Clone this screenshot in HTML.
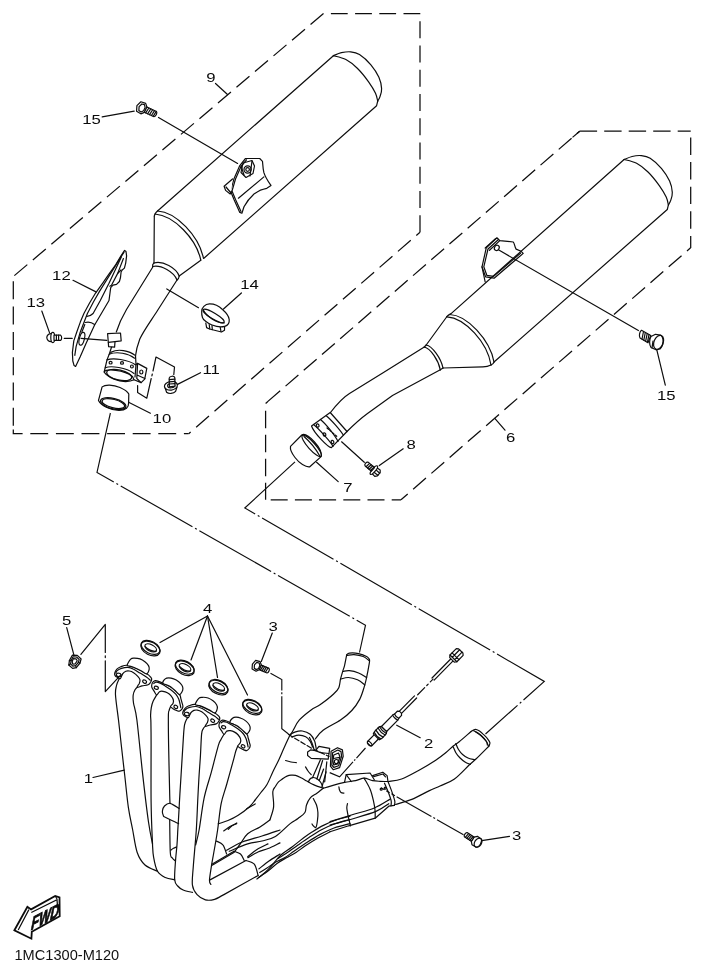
<!DOCTYPE html>
<html>
<head>
<meta charset="utf-8">
<title>Exhaust</title>
<style>
html,body{margin:0;padding:0;background:#fff;}
body{width:704px;height:972px;overflow:hidden;font-family:"Liberation Sans",sans-serif;}
svg{display:block;position:absolute;left:0;top:0;}
.l{fill:none;stroke:#0d0d0d;stroke-width:1.2;stroke-linecap:round;stroke-linejoin:round;}
.w{fill:#fff;stroke:#0d0d0d;stroke-width:1.2;stroke-linecap:round;stroke-linejoin:round;}
.d{fill:none;stroke:#0d0d0d;stroke-width:1.25;stroke-dasharray:17 7;}
.c{fill:none;stroke:#0d0d0d;stroke-width:1.15;stroke-dasharray:82.5 3 2 3;stroke-dashoffset:2.3}
.t{font-family:"Liberation Sans",sans-serif;font-size:12.57px;fill:#0a0a0a;}
.g{filter:grayscale(1);}
</style>
</head>
<body>
<svg width="704" height="972" viewBox="0 0 704 972">
<rect width="704" height="972" fill="#fff"/>

<!-- ===== DASHED BOXES ===== -->
<g id="boxes">
<path class="d" style="stroke-dasharray:17 7.24;stroke-dashoffset:0" d="M420,232.2 L420,14.5"/>
<path class="d" style="stroke-dasharray:16.8 7.4;stroke-dashoffset:0" d="M420.3,13.5 L323.4,13.5"/>
<path class="d" style="stroke-dasharray:17 7.27;stroke-dashoffset:0" d="M323.5,13.5 L13.3,276.5"/>
<path class="d" style="stroke-dasharray:18 7.3;stroke-dashoffset:0" d="M13.3,281.3 L13.3,427"/>
<path class="d" style="stroke-dasharray:17.9 7.7;stroke-dashoffset:4.4" d="M13.3,429.5 L13.3,433.7 L188.7,433.7"/>
<path class="d" style="stroke-dasharray:17 7.33;stroke-dashoffset:12.1" d="M420,232.2 L188.7,433.7"/>
<path class="d" style="stroke-dasharray:17 7.1;stroke-dashoffset:-2.3" d="M265.6,403.4 L579.7,131.2"/>
<path class="d" style="stroke-dasharray:none" d="M265.6,403.4 L267.6,401.7 M572.5,137.4 L579.7,131.2"/>
<path class="d" style="stroke-dasharray:17.4 7.1;stroke-dashoffset:0" d="M579.7,131.2 L690.7,131.2"/>
<path class="d" style="stroke-dasharray:17.4 7.2;stroke-dashoffset:0" d="M690.7,137.5 L690.7,247.9"/>
<path class="d" style="stroke-dasharray:17 7.2;stroke-dashoffset:12.2" d="M690.6,247.8 L401,499.8"/>
<path class="d" style="stroke-dasharray:17.5 6.5;stroke-dashoffset:0" d="M265.6,410.7 L265.6,499.8"/>
<path class="d" style="stroke-dasharray:17 7.2;stroke-dashoffset:0" d="M270.7,499.8 L401,499.8"/>
</g>

<!-- ===== CENTER (DASH-DOT) LEADERS ===== -->
<g id="centerlines">
<path class="c" d="M110.4,413 L97,472.4 L365.5,625.2 L359.5,652.5"/>
<path class="c" d="M295,461.8 L244.8,508 L544.3,681.4 L485.5,734"/>
</g>

<!-- ===== MUFFLER 1 ===== -->
<g id="muffler1">
<path class="l" d="M333.4,55.7 L159.5,209.3 C156.5,211.5 154.8,213.5 154.3,216"/>
<path class="l" d="M377.7,101.1 L376.6,105.7 L203.9,258.2"/>
<path class="l" d="M333.4,55.7 C334.7,55.2 338.5,53.4 341.4,52.7 C344.2,52.1 347.5,51.5 350.5,51.8 C353.5,52.1 356.1,52.3 359.5,54.5 C362.9,56.7 367.7,61.0 370.9,64.8 C374.1,68.6 377.1,73.3 378.9,77.3 C380.7,81.3 381.4,85.4 381.6,88.6 C381.8,91.8 380.6,94.5 380.0,96.6 C379.4,98.7 378.1,100.3 377.7,101.1"/>
<path class="l" d="M333.4,55.7 C335.5,56.3 341.9,57.4 345.9,59.5 C349.9,61.6 353.5,64.5 357.3,68.2 C361.1,71.9 365.6,77.6 368.6,81.8 C371.6,86.0 374.0,90.0 375.5,93.2 C377.0,96.4 377.3,99.8 377.7,101.1"/>
<!-- weld ring -->
<path class="l" d="M157.5,211 C176,212 199,236 203.5,258.5"/>
<path class="l" d="M155,214 C174,215.5 196.5,239 200.8,260.2"/>
<!-- cone -->
<path class="l" d="M154.3,216 L154,263"/>
<path class="l" d="M200.8,260.2 L179.2,276"/>
<!-- neck ring -->
<path class="l" d="M154,263 C163,260.5 176,268 179.2,276"/>
<path class="l" d="M152.6,266.5 C161,264.5 174,272 177,280"/>
<path class="l" d="M154,263 C152.6,264 152.4,265.3 152.6,266.5"/>
<path class="l" d="M179.2,276 C179,278 178.3,279.3 177,280"/>
<!-- pipe -->
<path class="l" d="M152.8,267 L126.5,309.5 C121.5,318 118.5,325 116.3,332"/>
<path class="l" d="M177,280 L157.5,310.5 C151.5,320 144,330 139.8,339 C137.5,345 136,351 135.3,357"/>
<path class="l" d="M112.5,344 L109.5,353.5"/>
</g>

<!-- ===== MUFFLER 2 ===== -->
<g id="muffler2">
<path class="l" d="M624.1,159.5 L451.1,313.6 C448.5,315 447,316 446.6,317"/>
<path class="l" d="M668.4,204.9 L667.3,209.5 L494.3,361.8"/>
<path class="l" d="M624.1,159.5 C625.4,159.0 629.2,157.2 632.1,156.5 C634.9,155.8 638.2,155.3 641.2,155.6 C644.2,155.9 646.8,156.1 650.2,158.3 C653.6,160.5 658.4,164.8 661.6,168.6 C664.8,172.4 667.8,177.1 669.6,181.1 C671.4,185.1 672.1,189.2 672.3,192.4 C672.5,195.6 671.4,198.3 670.7,200.4 C670.1,202.5 668.8,204.1 668.4,204.9"/>
<path class="l" d="M624.1,159.5 C626.2,160.1 632.6,161.2 636.6,163.3 C640.6,165.4 644.2,168.3 648.0,172.0 C651.8,175.7 656.3,181.4 659.3,185.6 C662.3,189.8 664.7,193.8 666.2,197.0 C667.7,200.2 668.0,203.6 668.4,204.9"/>
<!-- weld ring -->
<path class="l" d="M449.5,314.5 C467,315 490,340 494,362"/>
<path class="l" d="M447,316.8 C465,318 487.5,342.5 491,365"/>
<path class="l" d="M494,362 C493.5,363.5 492.5,364.5 491,365"/>
<!-- cone -->
<path class="l" d="M446.6,317 L426.2,345"/>
<path class="l" d="M491,365 C488,366.5 486,366.8 483,366.8 L443,368"/>
<!-- neck ring -->
<path class="l" d="M426.2,345 C432,346 441,358 443,368"/>
<path class="l" d="M424.3,347 C430.5,348.5 438.5,360 440.3,369.8"/>
<path class="l" d="M426.2,345 L424.3,347"/>
<path class="l" d="M443,368 L440.3,369.8"/>
<!-- pipe -->
<path class="l" d="M424.3,347 L383.5,372.5 L349.5,393.5 C343,397.5 337,404 330.5,412.5"/>
<path class="l" d="M440.3,369.8 L392.5,395.5 L367.5,413.5 C360,419 353.5,425 347,431.5"/>
</g>


<!-- ===== BRACKET ON MUFFLER 1 ===== -->
<g id="bracket1">
<path class="w" d="M245.5,158.5 L259.7,158.5 L262.5,161.3 C262.8,165 263,169 263.9,172.7 C265.5,178 268.5,182 271,185.5 L266.8,188.3 C262,189 258,191 254,194 C249,198.5 246,203 244,206.8 L241.9,213.2 L239.8,212.4 L234.1,199.7 L230.5,191.1 L234.1,178.4 L239.8,165.6 Z"/>
<path class="l" d="M246.5,159.8 L241,166.5 L235.5,179 L232,191 L235.5,199.5 L241,211.5"/>
<path class="w" d="M232.5,179 L224.1,186.2 L225.6,190.4 L230.2,194 L231.5,191"/>
<path class="l" d="M226,187 L231,193"/>
<path class="l" d="M238.4,198.2 L263.9,176.9"/>
<path class="l" d="M243,163 L252,160.5 L254.5,166 L253,173.5 L246,177.5 L241,172.5 Z"/>
<circle class="l" cx="247.6" cy="169.5" r="3.6"/>
<circle class="l" cx="247.6" cy="169.5" r="1.8"/>
<path class="l" d="M241,166 L244,175 M252,161 L250,176"/>
</g>

<!-- ===== BOLT 15 (left) ===== -->
<g id="bolt15a" transform="translate(142,108) rotate(24.7)">
<path class="w" d="M-3.6,-5.2 L1.4,-5.8 L4,-3 L4,3 L1.4,5.8 L-3.6,5.2 L-5.6,0 Z"/>
<path class="l" d="M-1.8,-3.6 L0.8,-4 L2.6,-1.8 L2.6,1.8 L0.8,4 L-1.8,3.6 L-3.2,0 Z"/>
<path class="w" d="M4,-2.9 L14.6,-2.9 C16.2,-2 16.2,2 14.6,2.9 L4,2.9 Z"/>
<path class="l" d="M6.2,-2.9 L5.4,2.9 M8.3,-2.9 L7.5,2.9 M10.4,-2.9 L9.6,2.9 M12.5,-2.9 L11.7,2.9 M14.4,-2.9 L13.6,2.9"/>
</g>
<path class="l" d="M158.5,117.5 L237.6,163.4"/>
<path class="l" d="M102.2,116.8 L134.2,111.2"/>
<path class="l" d="M215.5,83.5 L227.5,94.5"/>

<!-- ===== HEAT SHIELD 12 ===== -->
<g id="shield12">
<path class="w" d="M124.6,250.4 L126.0,251.5 L126.6,255.9 L125.7,263.1 L124.4,268.1 L122.2,270.0 L121.1,272.0 L120.5,277.5 L119.4,281.5 L116.5,284.4 L113.0,285.2 L110.7,287.6 L109.0,300.5 L101.8,312.8 L94.6,325.0 L85.9,343.7 L80.2,356.7 L75.6,366.5 L74.1,365.6 L72.8,361.0 L72.4,352.4 L73.8,340.9 L76.7,332.2 L80.3,322.1 L83.9,313.5 L89.7,302.7 L95.4,293.3 L102.7,283.2 L109.1,273.9 L115.8,264.5 L121.0,255.9 Z"/>
<path class="l" d="M124.0,252.1 L99.5,291.4 L93.4,302.0 L87.4,313.5 L80.2,332.2 L76.1,346.6 L74.8,355.3"/>
<path class="l" d="M121.2,257.3 L109,283.2 L100.3,300.5 L93.1,313.5 C91,315.5 88.5,316.5 86.7,316.4"/>
<path class="l" d="M123.4,258.5 L117.8,273.1 L111.5,285.2 L109.8,286.2"/>
<path class="l" d="M117.8,273.3 L121,270"/>
<path class="l" d="M85.2,322.5 C88.5,321.5 92,322.5 94.6,324.5"/>
<path class="l" d="M84.8,324.5 L81.8,332.2"/>
<ellipse class="l" cx="81.9" cy="338.8" rx="2.5" ry="6.6" transform="rotate(14 81.9 338.8)"/>
</g>
<path class="l" d="M73,280.3 L96,291.9"/>

<!-- ===== BOLT 13 ===== -->
<g id="bolt13">
<path class="w" d="M51.8,333.6 C48.5,333.2 46.8,335.8 46.8,337.6 C46.8,339.6 48.5,341.9 51.8,341.5 Z"/>
<ellipse class="w" cx="52.8" cy="337.5" rx="2" ry="5.1"/>
<path class="w" d="M54,335 L60.6,335.2 C62,336 62,339.6 60.6,340.4 L54,340.3 Z"/>
<path class="l" d="M56.4,335.1 L56.4,340.3 M58.6,335.2 L58.6,340.3"/>
</g>
<path class="l" d="M64.3,338.4 L72.2,338.4"/>
<path class="l" d="M81,338.4 L106.8,340.4"/>
<path class="l" d="M41.8,311 L49.5,332.6"/>

<!-- small bracket on pipe -->
<path class="w" d="M107.6,333.7 L120.5,333 L121.2,340.9 L115,341.6 L114.6,347.2 L108.6,346.6 L108.3,342.3 Z"/>
<path class="l" d="M108.3,342.3 L115,341.6"/>

<!-- ===== CLAMP ===== -->
<g id="clamp">
<path class="w" d="M111.3,352.1 C118,348.5 129,350.5 135.5,355.6 L136,364.5 L137.6,363.4 L146.8,368.4 L144.7,379.1 L141.1,382.6 L134,379.8 C130,382 122,382.5 114.1,379.1 C109,377 105.5,374.5 104.2,372 L107,359.9 L109.2,354.2 Z"/>
<path class="l" d="M109.2,354.2 C117,351 128.5,353.5 134.6,358.2"/>
<path class="l" d="M107,359.9 C113,357.5 128,359.5 135.8,364.9"/>
<path class="l" d="M105.3,367.7 C111,365.5 126,367.5 134,373.4"/>
<path class="l" d="M104.2,372 C106,368.5 124,369.5 132.5,376.5 L134,379.8"/>
<ellipse class="l" cx="119.2" cy="375" rx="12.8" ry="5" transform="rotate(13 119.2 375)"/>
<ellipse class="l" cx="110.6" cy="362.7" rx="1.5" ry="1.3"/>
<ellipse class="l" cx="122" cy="362.9" rx="1.5" ry="1.3"/>
<ellipse class="l" cx="131.9" cy="366.5" rx="1.4" ry="1.5"/>
<path class="l" d="M136,364.5 L135,377 M137.6,363.4 L136.8,378.5 L141.1,382.6 M137,375 L144.9,378.5"/>
<ellipse class="l" cx="141.3" cy="372" rx="1.6" ry="2"/>
</g>

<!-- ===== GASKET 10 ===== -->
<g id="gasket10">
<path class="w" d="M102.1,386.9 C105,384.5 113,384.5 120,387.5 C124.5,389.5 127.5,391.5 128.8,394 L128.6,403 C128.8,407 126,410.5 119,410.5 C110,410 101,405.5 98.5,400.4 Z"/>
<ellipse class="l" cx="113.2" cy="403.6" rx="13" ry="5.2" transform="rotate(14 113.2 403.6)"/>
<ellipse class="l" cx="113.4" cy="403.6" rx="11.6" ry="4.2" transform="rotate(14 113.4 403.6)"/>
</g>
<path class="l" d="M129.1,402.5 L150.4,413.2"/>

<!-- Z leader to bolt 11 -->
<path class="l" d="M137.6,385.5 L137.6,392.6 L146.8,398.2 L151.2,378.5 M151.9,375.8 L152.3,374 M153,371 L156,357 L174.5,367 L173.8,374.5"/>
<!-- ===== BOLT 11 ===== -->
<g id="bolt11">
<path class="w" d="M165,387.5 L166.6,392.3 C168.5,394 173.5,394 175.6,391.4 L177,387"/>
<ellipse class="w" cx="170.9" cy="385.8" rx="6.5" ry="4.3" transform="rotate(-8 170.9 385.8)"/>
<ellipse class="l" cx="171.2" cy="385.6" rx="3.6" ry="2.2" transform="rotate(-8 171.2 385.6)"/>
<path class="w" d="M169.2,378 C169.6,375.8 174.2,375.6 174.8,377.6 L175,386.2 L169.4,386.8 Z"/>
<path class="l" d="M169.3,379.6 L174.9,379.2 M169.3,381.8 L174.9,381.4 M169.4,384 L175,383.6"/>
</g>
<path class="l" d="M177.5,384.4 L200.5,372.7"/>

<!-- ===== CLAMP 14 ===== -->
<g id="clamp14">
<path class="w" d="M205.8,323 L206.6,327.6 L209.5,329 L221.5,332 L224.5,330.3 L224.6,326"/>
<path class="l" d="M209.2,324.5 L209.8,328.8 M212,325.6 L212.3,329.6 M220.2,327.2 L221,331.6"/>
<path class="w" d="M201.7,311.5 C201.5,308 205,304 209.4,303.9 C213,303.8 218.4,305.5 222.5,309.5 C226.5,313 229,317 229.2,319.5 C229.5,322.5 228,325.5 224.7,326.3 C221.5,327.2 216,326.5 212,325 C208,323.5 203,320 202.4,317.3 C201.8,315.5 201.6,313.5 201.7,311.5 Z"/>
<ellipse class="l" cx="213.6" cy="316" rx="12.2" ry="3" transform="rotate(31 213.6 316)"/>
<path class="l" d="M203.2,309.8 C206,316 217,323.5 224.3,322.8"/>
</g>
<path class="l" d="M166.8,288.9 L198.5,307.7"/>
<path class="l" d="M223.5,309 L241.4,293"/>


<!-- ===== BRACKET ON MUFFLER 2 ===== -->
<g id="bracket2">
<path class="l" d="M496.9,237.8 L486.3,247.7 L482,266.9 L485.6,276.8 L494.1,278.2 L523.2,253.4 L521.1,251.3 L516.1,249.1 C514.5,246.5 514.8,244 513.3,242 L499.8,240.6 Z"/>
<path class="l" d="M498.5,239.5 L488,249 L483.8,266.8 L486.8,275.3 L493.6,276.4 L520.5,253.2"/>
<path class="l" d="M495.5,238.8 L485.2,248 M499.8,240.6 L489.5,250.3"/>
<ellipse class="l" cx="496.8" cy="247.9" rx="2.3" ry="2.8" transform="rotate(30 496.8 247.9)"/>
<path class="l" d="M482,266.9 L485.2,282"/>
</g>
<path class="l" d="M498.4,249.8 L638.4,330.5"/>

<!-- ===== BOLT 15 (right) ===== -->
<g id="bolt15b">
<path class="w" d="M641.5,330.3 L650.8,335.5 L648,342.8 L640,338 C638.8,336 639.5,331.5 641.5,330.3 Z"/>
<path class="l" d="M643.5,331.5 L642,339 M645.3,332.5 L643.8,340.2 M647.2,333.6 L645.6,341.3 M649,334.6 L647.4,342.4"/>
<path class="w" d="M651,336.5 L655.5,334.3 L660.5,335 C664,337.5 664,345 660,349 L656,349.8 L651,347.5 C649,344.5 649.3,339.5 651,336.5 Z"/>
<ellipse class="l" cx="658.6" cy="342.3" rx="4.6" ry="7.3" transform="rotate(22 658.6 342.3)"/>
<path class="l" d="M653,341 L652,347.8"/>
</g>
<path class="l" d="M656.8,349.9 L665.3,385.2"/>

<!-- ===== COLLAR on pipe 2 ===== -->
<g id="collar2">
<path class="w" d="M330.2,412.5 L347,431.5 L331.4,447.7 C328,447.5 314,433 311.5,426 Z"/>
<path class="l" d="M326.5,416 C331,419.5 340,430 343.3,435"/>
<path class="l" d="M320.5,419.5 C326,424 335.5,436 338,441.5"/>
<path class="l" d="M313.5,424.5 C318,428 331.5,442.5 333,446.5"/>
<ellipse class="l" cx="317.7" cy="425.5" rx="1.3" ry="1.7" transform="rotate(-20 317.7 425.5)"/>
<ellipse class="l" cx="324.5" cy="434.5" rx="1.3" ry="1.7" transform="rotate(-20 324.5 434.5)"/>
<ellipse class="l" cx="332.5" cy="442" rx="1.3" ry="1.7" transform="rotate(-20 332.5 442)"/>
<path class="l" style="stroke-dasharray:2 1.6" d="M327,428 L337.5,437"/>
</g>
<path class="l" d="M341.6,441.8 L364.3,462.3"/>

<!-- ===== GASKET 7 ===== -->
<g id="gasket7">
<path class="w" d="M301.8,435 C304,433.5 309,436 314.5,442 C319.5,447.5 321.8,453 321.1,456.6 L309.8,466.8 C306,467.5 299,463 295,457.5 C291.5,453 290,449 290.5,446.4 Z"/>
<ellipse class="l" cx="311.7" cy="445.9" rx="14" ry="3.6" transform="rotate(48 311.7 445.9)"/>
<path class="l" d="M304,436.5 C308,440 315.5,448.5 319.5,455.5"/>
</g>
<path class="l" d="M316.6,462.3 L338.2,481.6"/>

<!-- ===== BOLT 8 ===== -->
<g id="bolt8" transform="translate(365.6,463.2) rotate(40)">
<path class="w" d="M11.5,-3.8 L15.5,-4.2 L17.2,-2.2 L17.2,2.2 L15.5,4.2 L11.5,3.8 Z"/>
<path class="l" d="M11.5,-1.6 L17.2,-1.4 M11.5,1.6 L17.2,1.4"/>
<ellipse class="w" cx="10.8" cy="0" rx="1.7" ry="5.4"/>
<path class="w" d="M1.2,-2.4 L9.6,-2.4 L9.6,2.4 L1.2,2.4 C-0.4,1.8 -0.4,-1.8 1.2,-2.4 Z"/>
<path class="l" d="M3.2,-2.4 L2.6,2.4 M5.2,-2.4 L4.6,2.4 M7.2,-2.4 L6.6,2.4 M9,-2.4 L8.4,2.4"/>
</g>
<path class="l" d="M379.3,465.6 L403.2,448.8"/>
<!-- leader 6 -->
<path class="l" d="M494.8,418.4 L505,430.2"/>



<!-- ===== LABELS ===== -->
<g id="labels" class="t g">
<text transform="translate(206.3,82) scale(1.33,1)">9</text>
<text transform="translate(82.2,124) scale(1.33,1)">15</text>
<text transform="translate(656.9,400) scale(1.33,1)">15</text>
<text transform="translate(52.1,280) scale(1.33,1)">12</text>
<text transform="translate(26.5,307) scale(1.33,1)">13</text>
<text transform="translate(240.2,289) scale(1.33,1)">14</text>
<text transform="translate(202.4,374) scale(1.33,1)">11</text>
<text transform="translate(152.6,423) scale(1.33,1)">10</text>
<text transform="translate(506,442) scale(1.33,1)">6</text>
<text transform="translate(343.3,492) scale(1.33,1)">7</text>
<text transform="translate(406.6,449) scale(1.33,1)">8</text>
<text transform="translate(203,613) scale(1.33,1)">4</text>
<text transform="translate(62,625) scale(1.33,1)">5</text>
<text transform="translate(268.6,631) scale(1.33,1)">3</text>
<text transform="translate(83.8,783) scale(1.33,1)">1</text>
<text transform="translate(424,748) scale(1.33,1)">2</text>
<text transform="translate(512,840) scale(1.33,1)">3</text>
</g>
<text class="g" x="14.5" y="959.5" style='font-family:"Liberation Sans",sans-serif;font-size:14.6px;fill:#111'>1MC1300-M120</text>


<!-- ===== HEADER PIPES ===== -->
<path class="l" d="M122.6,673.8 C121.9,674.8 119.7,677.8 118.7,679.8 C117.7,681.8 117.0,683.0 116.5,685.5 C116.0,688.0 115.2,689.2 115.5,695.0 C115.8,700.8 117.5,711.6 118.5,720.0 C119.5,728.4 120.2,735.9 121.3,745.2 C122.3,754.5 123.6,765.6 124.8,776.0 C126.0,786.4 127.1,798.9 128.4,807.7 C129.7,816.5 131.0,821.5 132.5,829.0 C134.0,836.5 135.1,846.5 137.2,852.5 C139.3,858.5 141.6,861.9 145.0,865.0 C148.4,868.1 155.4,870.2 157.5,871.3"/>
<path class="l" d="M137.1,687.3 C136.8,687.7 135.7,688.5 135.0,689.8 C134.3,691.1 133.4,692.8 133.2,695.0 C132.9,697.2 132.9,698.8 133.5,703.0 C134.1,707.2 135.4,708.2 136.9,720.0 C138.4,731.8 140.7,756.6 142.6,773.6 C144.5,790.6 146.8,810.3 148.5,822.0 C150.2,833.7 151.8,840.2 152.5,843.9"/>
<path class="l" d="M156.7,694.9 C156.1,696.0 154.0,699.2 153.1,701.3 C152.2,703.4 151.7,705.3 151.3,707.6 C150.9,709.9 150.7,712.6 150.6,715.0 C150.5,717.4 150.8,717.0 150.9,722.0 C151.0,727.0 151.1,731.9 151.1,745.2 C151.1,758.5 150.9,785.5 151.1,802.0 C151.3,818.5 152.1,834.7 152.5,843.9 C152.9,853.1 152.8,852.6 153.6,857.2 C154.4,861.8 155.6,867.9 157.5,871.3 C159.4,874.7 162.4,876.1 165.3,877.5 C168.2,878.9 173.1,879.4 174.7,879.8"/>
<path class="l" d="M170.5,706.6 C170.3,707.2 169.4,709.1 169.1,710.5 C168.8,711.9 168.5,709.2 168.4,715.0 C168.3,720.8 168.4,732.5 168.6,745.0 C168.8,757.5 169.4,780.3 169.6,790.0 C169.8,799.7 169.9,801.1 170.0,803.3"/>
<path class="l" d="M169.7,819.7 C169.8,825.2 169.9,846.1 170.3,852.5 C170.7,858.9 171.4,856.6 172.3,858.0 C173.2,859.4 175.0,860.5 175.5,861.0"/>
<path class="l" d="M190.7,712.9 C190.0,713.9 187.8,716.9 186.8,718.9 C185.8,720.9 185.1,722.1 184.6,724.6 C184.1,727.1 184.0,728.5 183.6,734.1 C183.2,739.7 182.7,748.4 182.1,758.4 C181.5,768.4 180.4,785.6 179.9,793.9 C179.4,802.2 179.4,802.4 179.1,808.4 C178.8,814.4 178.2,824.0 177.8,830.0 C177.5,836.0 177.4,839.5 177.0,844.7 C176.6,849.9 175.9,855.1 175.5,861.0 C175.1,866.9 174.3,875.6 174.7,879.8 C175.1,884.0 176.3,884.3 177.7,886.0 C179.1,887.7 180.7,888.9 183.2,890.0 C185.7,891.1 190.9,892.0 192.5,892.4"/>
<path class="l" d="M205.2,726.4 C204.8,726.8 203.7,727.6 203.1,728.9 C202.5,730.2 202.1,729.2 201.6,734.1 C201.1,739.0 200.8,750.4 200.3,758.0 C199.8,765.6 199.2,772.8 198.8,780.0 C198.4,787.2 198.1,792.7 197.7,801.0 C197.3,809.3 197.0,819.3 196.3,830.0 C195.6,840.7 194.1,855.8 193.4,865.0 C192.8,874.2 191.8,880.1 192.4,885.0 C193.0,889.9 194.9,892.1 197.1,894.6 C199.3,897.1 202.5,899.0 205.4,899.8 C208.3,900.6 211.5,900.2 214.6,899.3 C217.7,898.4 216.6,898.6 223.9,894.6 C231.2,890.6 252.5,878.6 258.2,875.4"/>
<path class="l" d="M224.0,734.3 C223.5,735.2 221.9,737.6 221.0,739.5 C220.1,741.4 219.9,740.1 218.3,745.6 C216.7,751.1 213.6,763.8 211.2,772.6 C208.8,781.4 206.1,788.6 204.1,798.2 C202.1,807.8 200.5,822.2 199.1,830.0 C197.7,837.8 196.2,842.5 195.6,845.0"/>
<path class="l" d="M237.8,746.0 C237.5,746.8 236.7,748.4 236.0,750.5 C235.3,752.6 235.4,752.8 233.9,758.4 C232.4,764.0 228.9,776.4 226.8,784.0 C224.7,791.6 222.6,796.2 221.1,803.9 C219.6,811.6 218.8,821.9 217.6,830.0 C216.4,838.1 214.8,847.0 213.8,852.5 C212.9,858.0 212.6,858.6 211.9,863.2 C211.2,867.8 209.7,876.4 209.5,879.9 C209.3,883.4 210.7,883.7 210.9,884.5"/>
<path class="l" d="M170.8,850.2 C171.2,849.9 172.6,848.8 173.5,848.3 C174.4,847.8 176.0,847.2 176.5,847.0"/>
<path class="l" d="M179.1,808.4 C177.6,807.5 172.4,803.7 170.0,803.3 C167.6,802.9 165.8,804.7 164.5,806.0 C163.2,807.3 162.6,809.4 162.4,811.0 C162.2,812.6 162.8,814.5 163.3,815.5 C163.8,816.5 162.8,815.9 165.3,817.3 C167.9,818.6 176.4,822.5 178.6,823.6"/>
<path class="l" d="M211.9,864.2 L234.0,851.2"/>
<path class="l" d="M212.2,865.2 L234.3,852.2"/>
<path class="l" d="M210.0,879.9 L246.0,860.5"/>
<path class="l" d="M216.5,841.1 C217.6,841.7 221.2,842.6 222.9,844.8 C224.6,846.9 226.0,852.5 226.6,854.0"/>
<path class="l" d="M234.0,851.2 C235.1,851.7 238.8,852.5 240.5,854.0 C242.2,855.5 243.6,859.4 244.2,860.5"/>
<path class="l" d="M246.0,860.5 C247.4,861.1 252.3,861.8 254.3,864.2 C256.3,866.7 257.4,873.4 258.0,875.2"/>
<path class="w" d="M114.7,673.1 C115.0,672.0 115.9,670.3 116.9,669.2 C117.9,668.1 119.1,667.4 120.8,666.7 C122.5,666.1 124.6,665.0 127.2,665.3 C129.8,665.6 133.2,667.1 136.4,668.5 C139.7,669.9 144.3,672.4 146.7,673.8 C149.1,675.2 149.8,676.1 150.6,677.0 C151.4,677.9 151.7,678.2 151.7,679.1 C151.7,680.0 151.2,681.3 150.6,682.3 C150.0,683.2 149.5,684.2 148.1,684.8 C146.7,685.4 143.9,685.5 142.1,685.9 C140.3,686.3 137.6,687.7 137.1,687.3 C136.6,686.9 138.8,684.6 139.3,683.4 C139.8,682.1 140.2,681.0 140.0,679.8 C139.8,678.6 138.9,677.5 137.8,676.3 C136.7,675.1 135.0,673.6 133.6,672.7 C132.2,671.8 130.6,671.2 129.3,671.0 C128.0,670.8 126.9,670.8 125.8,671.3 C124.7,671.8 123.5,672.6 122.6,673.8 C121.7,675.0 121.3,677.8 120.4,678.4 C119.5,679.0 118.1,677.8 117.2,677.3 C116.3,676.8 115.5,676.3 115.1,675.6 C114.7,674.9 114.4,674.2 114.7,673.1 Z"/>
<path class="l" d="M115.8,673.1 C116.0,672.7 116.2,671.4 117.2,670.6 C118.2,669.8 119.7,668.8 121.5,668.3 C123.3,667.8 125.9,667.2 127.9,667.4 C129.9,667.5 131.6,668.2 133.6,669.2 C135.6,670.2 137.9,671.8 140.0,673.1 C142.1,674.4 144.7,675.8 146.4,677.0 C148.1,678.2 149.7,679.7 150.3,680.2"/>
<ellipse class="l" cx="118.7" cy="674.9" rx="2.4" ry="1.7" transform="rotate(10 118.7 674.9)"/>
<ellipse class="l" cx="144.6" cy="681.6" rx="2.1" ry="1.5" transform="rotate(30 144.6 681.6)"/>
<path class="w" d="M127.2,665.3 C127.1,664.1 129.5,660.4 130.7,659.2 C131.9,658.0 132.8,658.2 134.3,658.2 C135.9,658.2 138.2,658.3 140.0,658.9 C141.8,659.5 143.5,660.6 144.9,661.7 C146.3,662.8 147.8,664.4 148.5,665.6 C149.2,666.9 149.5,667.8 149.2,669.2 C148.9,670.6 148.0,673.5 146.7,673.8 C145.4,674.1 143.2,671.9 141.5,671.0 C139.8,670.1 138.1,669.2 136.4,668.5 C134.7,667.8 133.0,667.0 131.5,666.5 C130.0,666.0 127.3,666.5 127.2,665.3 Z"/>
<path class="w" d="M151.7,685.3 C151.8,684.4 152.1,683.2 152.7,682.4 C153.3,681.6 154.2,680.9 155.2,680.7 C156.2,680.5 157.6,681.0 158.8,681.4 C160.1,681.8 160.7,682.2 162.7,683.1 C164.7,684.0 168.1,685.1 170.9,687.0 C173.7,688.9 177.8,692.6 179.4,694.5 C181.1,696.4 180.3,696.9 180.8,698.4 C181.3,699.9 181.8,702.1 182.2,703.4 C182.5,704.7 182.9,705.2 182.9,706.2 C182.9,707.2 182.5,708.3 181.9,709.1 C181.3,709.9 180.3,711.0 179.4,711.2 C178.5,711.4 177.6,710.9 176.5,710.5 C175.4,710.1 174.0,709.4 173.0,708.7 C172.0,708.1 170.5,707.5 170.5,706.6 C170.5,705.7 172.5,704.5 173.0,703.4 C173.5,702.3 173.7,701.1 173.3,699.8 C173.0,698.5 171.9,696.8 170.9,695.6 C169.9,694.4 168.6,693.4 167.3,692.7 C166.0,692.0 164.3,691.5 163.0,691.3 C161.7,691.1 160.6,691.1 159.5,691.7 C158.4,692.3 157.6,695.0 156.7,694.9 C155.8,694.8 155.0,692.5 154.2,691.3 C153.4,690.1 152.4,688.8 152.0,687.8 C151.6,686.8 151.6,686.2 151.7,685.3 Z"/>
<path class="l" d="M153.8,683.5 C154.2,683.3 155.0,682.3 155.9,682.2 C156.8,682.1 158.1,682.3 159.5,682.9 C160.9,683.5 162.7,684.5 164.5,685.6 C166.3,686.7 168.2,687.8 170.1,689.2 C172.0,690.6 174.4,692.5 175.8,694.1 C177.2,695.8 178.0,697.4 178.7,699.1 C179.4,700.8 179.8,702.7 180.1,704.1 C180.4,705.5 180.7,707.0 180.8,707.6"/>
<ellipse class="l" cx="156.3" cy="687.8" rx="2.1" ry="1.5" transform="rotate(20 156.3 687.8)"/>
<ellipse class="l" cx="175.8" cy="706.9" rx="2.0" ry="1.5" transform="rotate(30 175.8 706.9)"/>
<path class="w" d="M162.7,683.1 C162.5,682.1 164.2,679.8 165.2,678.9 C166.2,678.0 167.3,677.8 168.7,677.8 C170.1,677.8 172.0,678.2 173.7,678.9 C175.4,679.5 177.3,680.6 178.7,681.7 C180.1,682.8 181.2,684.2 181.9,685.3 C182.6,686.4 182.9,687.4 182.9,688.5 C182.9,689.6 182.5,691.0 181.9,692.0 C181.3,693.0 180.6,694.8 179.4,694.5 C178.2,694.2 176.4,691.8 175.0,690.5 C173.6,689.2 172.3,688.0 170.9,687.0 C169.5,686.0 167.9,685.4 166.5,684.8 C165.1,684.1 162.9,684.1 162.7,683.1 Z"/>
<path class="w" d="M182.8,712.2 C183.1,711.1 184.0,709.4 185.0,708.3 C186.0,707.2 187.2,706.5 188.9,705.8 C190.6,705.2 192.7,704.1 195.3,704.4 C197.9,704.7 201.2,706.2 204.5,707.6 C207.8,709.0 212.4,711.5 214.8,712.9 C217.2,714.3 217.9,715.2 218.7,716.1 C219.5,717.0 219.8,717.3 219.8,718.2 C219.8,719.1 219.3,720.5 218.7,721.4 C218.1,722.3 217.6,723.3 216.2,723.9 C214.8,724.5 212.0,724.6 210.2,725.0 C208.4,725.4 205.7,726.8 205.2,726.4 C204.7,726.0 206.9,723.8 207.4,722.5 C207.9,721.2 208.3,720.1 208.1,718.9 C207.8,717.7 207.0,716.6 205.9,715.4 C204.8,714.2 203.1,712.7 201.7,711.8 C200.3,710.9 198.7,710.3 197.4,710.1 C196.1,709.9 195.0,709.9 193.9,710.4 C192.8,710.9 191.6,711.7 190.7,712.9 C189.8,714.1 189.4,716.9 188.5,717.5 C187.6,718.1 186.2,716.9 185.3,716.4 C184.4,715.9 183.6,715.4 183.2,714.7 C182.8,714.0 182.5,713.3 182.8,712.2 Z"/>
<path class="l" d="M183.9,712.2 C184.1,711.8 184.4,710.5 185.3,709.7 C186.2,708.9 187.8,707.9 189.6,707.4 C191.4,706.9 194.0,706.4 196.0,706.5 C198.0,706.6 199.7,707.4 201.7,708.3 C203.7,709.3 206.0,710.9 208.1,712.2 C210.2,713.5 212.8,714.9 214.5,716.1 C216.2,717.3 217.8,718.8 218.4,719.3"/>
<ellipse class="l" cx="186.8" cy="714.0" rx="2.4" ry="1.7" transform="rotate(10 186.8 714.0)"/>
<ellipse class="l" cx="212.7" cy="720.7" rx="2.1" ry="1.5" transform="rotate(30 212.7 720.7)"/>
<path class="w" d="M195.3,704.4 C195.2,703.2 197.6,699.5 198.8,698.3 C200.0,697.1 200.8,697.4 202.4,697.3 C204.0,697.2 206.3,697.4 208.1,698.0 C209.9,698.6 211.6,699.7 213.0,700.8 C214.4,701.9 215.9,703.5 216.6,704.7 C217.3,706.0 217.6,706.9 217.3,708.3 C217.0,709.7 216.1,712.6 214.8,712.9 C213.5,713.2 211.3,711.0 209.6,710.1 C207.9,709.2 206.2,708.4 204.5,707.6 C202.8,706.9 201.1,706.1 199.6,705.6 C198.1,705.1 195.4,705.6 195.3,704.4 Z"/>
<path class="w" d="M219.0,724.7 C219.1,723.8 219.4,722.6 220.0,721.8 C220.6,721.0 221.5,720.3 222.5,720.1 C223.5,719.9 224.9,720.4 226.1,720.8 C227.4,721.2 228.0,721.6 230.0,722.5 C232.0,723.4 235.4,724.5 238.2,726.4 C241.0,728.3 245.0,732.0 246.7,733.9 C248.3,735.8 247.6,736.3 248.1,737.8 C248.6,739.3 249.2,741.5 249.5,742.8 C249.8,744.1 250.2,744.6 250.2,745.6 C250.1,746.6 249.8,747.7 249.2,748.5 C248.6,749.3 247.6,750.4 246.7,750.6 C245.8,750.8 244.9,750.3 243.8,749.9 C242.7,749.5 241.3,748.8 240.3,748.1 C239.3,747.5 237.8,746.9 237.8,746.0 C237.8,745.1 239.8,743.9 240.3,742.8 C240.8,741.7 241.0,740.5 240.6,739.2 C240.3,737.9 239.2,736.2 238.2,735.0 C237.2,733.8 235.9,732.8 234.6,732.1 C233.3,731.4 231.6,730.9 230.3,730.7 C229.0,730.5 227.9,730.5 226.8,731.1 C225.8,731.7 224.9,734.4 224.0,734.3 C223.1,734.2 222.3,731.9 221.5,730.7 C220.7,729.5 219.7,728.2 219.3,727.2 C218.9,726.2 218.9,725.6 219.0,724.7 Z"/>
<path class="l" d="M221.1,722.9 C221.5,722.7 222.2,721.7 223.2,721.6 C224.1,721.5 225.4,721.7 226.8,722.3 C228.2,722.9 230.0,724.0 231.8,725.0 C233.6,726.0 235.5,727.2 237.4,728.6 C239.3,730.0 241.7,731.9 243.1,733.5 C244.5,735.1 245.3,736.8 246.0,738.5 C246.7,740.2 247.0,742.1 247.4,743.5 C247.7,744.9 248.0,746.4 248.1,747.0"/>
<ellipse class="l" cx="223.6" cy="727.2" rx="2.1" ry="1.5" transform="rotate(20 223.6 727.2)"/>
<ellipse class="l" cx="243.1" cy="746.3" rx="2.0" ry="1.5" transform="rotate(30 243.1 746.3)"/>
<path class="w" d="M230.0,722.5 C229.8,721.5 231.5,719.2 232.5,718.3 C233.5,717.4 234.6,717.2 236.0,717.2 C237.4,717.2 239.3,717.6 241.0,718.3 C242.7,718.9 244.6,720.0 246.0,721.1 C247.4,722.2 248.5,723.6 249.2,724.7 C249.9,725.8 250.2,726.8 250.2,727.9 C250.2,729.0 249.8,730.4 249.2,731.4 C248.6,732.4 247.8,734.1 246.7,733.9 C245.5,733.6 243.7,731.1 242.3,729.9 C240.9,728.6 239.6,727.4 238.2,726.4 C236.8,725.4 235.2,724.8 233.8,724.2 C232.4,723.5 230.2,723.5 230.0,722.5 Z"/>
<ellipse class="w" cx="150.4" cy="648.5" rx="10.3" ry="6.4" transform="rotate(27 150.4 648.5)"/>
<ellipse class="l" cx="150.5" cy="647.4" rx="10.1" ry="6.0" transform="rotate(27 150.5 647.4)"/>
<ellipse class="l" cx="150.7" cy="647.9" rx="6.3" ry="3.3" transform="rotate(27 150.7 647.9)"/>
<path class="l" d="M145.2,646.6 C147.4,649.3 152.4,651.8 156.2,651.2"/>
<ellipse class="w" cx="184.7" cy="668.3" rx="10.3" ry="6.4" transform="rotate(27 184.7 668.3)"/>
<ellipse class="l" cx="184.8" cy="667.2" rx="10.1" ry="6.0" transform="rotate(27 184.8 667.2)"/>
<ellipse class="l" cx="185.0" cy="667.7" rx="6.3" ry="3.3" transform="rotate(27 185.0 667.7)"/>
<path class="l" d="M179.5,666.4 C181.7,669.1 186.7,671.6 190.5,671.0"/>
<ellipse class="w" cx="218.4" cy="687.6" rx="10.3" ry="6.4" transform="rotate(27 218.4 687.6)"/>
<ellipse class="l" cx="218.5" cy="686.5" rx="10.1" ry="6.0" transform="rotate(27 218.5 686.5)"/>
<ellipse class="l" cx="218.7" cy="687.0" rx="6.3" ry="3.3" transform="rotate(27 218.7 687.0)"/>
<path class="l" d="M213.2,685.7 C215.4,688.4 220.4,690.9 224.2,690.3"/>
<ellipse class="w" cx="252.2" cy="707.5" rx="10.3" ry="6.4" transform="rotate(27 252.2 707.5)"/>
<ellipse class="l" cx="252.3" cy="706.4" rx="10.1" ry="6.0" transform="rotate(27 252.3 706.4)"/>
<ellipse class="l" cx="252.5" cy="706.9" rx="6.3" ry="3.3" transform="rotate(27 252.5 706.9)"/>
<path class="l" d="M247.0,705.6 C249.2,708.3 254.2,710.8 258.0,710.2"/>
<!-- ===== Y PIPE / COLLECTOR ===== -->
<path class="l" d="M346.7,654.8 C346.3,656.7 345.1,663.4 344.4,666.1 C343.7,668.9 343.3,669.1 342.7,671.3 C342.1,673.5 341.1,676.5 340.5,679.2 C339.9,681.9 339.9,685.2 338.8,687.7 C337.7,690.2 336.7,691.1 333.6,694.0 C330.5,696.9 323.8,702.1 320.0,704.8 C316.2,707.4 314.6,707.3 311.1,709.9 C307.6,712.5 302.2,716.7 299.2,720.1 C296.2,723.5 294.7,727.7 293.2,730.3 C291.7,732.9 290.7,734.6 290.2,735.5"/>
<path class="l" d="M369.4,659.3 C369.4,659.9 369.9,659.7 369.4,662.7 C368.9,665.7 367.5,673.5 366.6,677.5 C365.8,681.5 365.4,683.0 364.3,686.6 C363.2,690.2 361.9,695.1 359.8,699.1 C357.7,703.1 355.0,707.0 351.8,710.5 C348.6,714.0 345.3,716.7 340.5,720.0 C335.7,723.3 327.3,727.1 323.1,730.3 C318.9,733.4 316.7,737.5 315.4,738.9"/>
<path class="l" d="M346.7,654.8 C347.2,654.5 347.5,653.3 349.5,653.1 C351.5,652.9 355.8,653.0 358.6,653.6 C361.5,654.2 364.8,655.5 366.6,656.5 C368.4,657.5 368.9,658.8 369.4,659.3"/>
<path class="l" d="M347.3,655.4 C348.4,655.3 351.4,654.4 354.0,654.6 C356.6,654.8 360.7,655.5 363.2,656.5 C365.7,657.5 367.9,659.8 368.9,660.5"/>
<path class="l" d="M343.3,671.3 C344.3,671.2 346.9,670.4 349.5,670.7 C352.1,671.0 355.8,671.9 358.6,673.0 C361.5,674.1 365.3,676.8 366.6,677.5"/>
<path class="l" d="M340.5,679.2 C341.8,678.9 345.6,677.4 348.4,677.5 C351.2,677.6 354.8,678.6 357.5,679.8 C360.2,681.0 363.7,684.0 364.9,684.9"/>
<path class="l" d="M289.8,734.6 C290.8,734.1 293.4,732.4 295.5,731.8 C297.6,731.2 299.9,730.6 302.3,731.0 C304.8,731.4 308.1,732.6 310.2,734.3 C312.2,736.0 313.6,738.7 314.6,741.1 C315.6,743.5 315.9,747.3 316.2,748.5"/>
<path class="l" d="M291.6,737.0 C292.8,736.7 296.5,735.2 298.9,735.2 C301.2,735.2 303.8,735.8 305.7,736.8 C307.6,737.8 309.0,739.6 310.2,741.3 C311.4,743.0 312.2,746.0 312.6,747.0"/>
<path class="l" d="M289.9,735.2 C288.9,737.3 285.9,743.8 284.0,748.0 C282.1,752.2 280.3,756.6 278.5,760.5 C276.7,764.4 274.9,767.5 273.0,771.5 C271.1,775.5 269.0,781.0 267.0,784.5 C265.0,788.0 262.9,789.8 260.9,792.5 C258.9,795.2 255.8,799.2 254.8,800.5"/>
<path class="l" d="M255.2,803.9 L246.7,808.8"/>
<path class="l" d="M254.8,800.5 C253.9,801.5 252.3,804.2 249.5,806.7 C246.7,809.2 241.8,812.9 238.2,815.2 C234.6,817.5 231.3,819.1 228.0,820.5 C224.7,821.9 219.9,823.2 218.3,823.8"/>
<path class="l" d="M309.5,737.5 C309.9,738.3 311.1,740.7 311.8,742.5 C312.5,744.3 313.5,747.5 313.8,748.5"/>
<path class="w" d="M307.6,752.0 L310.5,749.9 L315.5,750.6 L319.0,746.3 L329.7,748.4 L328.2,759.1 L311.2,758.4 L307.6,755.5 Z"/>
<path class="l" d="M315.5,750.6 L320.0,752.5 L328.8,753.5"/>
<path class="w" d="M331.1,751.3 L337.5,747.7 L342.4,749.9 L343.2,756.3 L339.6,767.6 L333.2,769.7 L330.4,766.2 Z"/>
<path class="l" d="M332.6,752.8 L337.8,750.0 L341.0,751.6 L341.6,756.3 L338.6,765.8 L333.8,767.4 L331.8,765.0 Z"/>
<path class="l" d="M333.8,755.0 L338.5,753.0 L340.0,757.0 L337.5,764.0 L333.8,765.0 L332.8,761.0 Z"/>
<circle class="l" cx="336.4" cy="761.6" r="2.1"/>
<path class="l" d="M333.5,758.5 L339.5,757.3"/>
<path class="l" d="M320.4,759.8 L312.6,777.6"/>
<path class="l" d="M322.6,760.5 L316.9,779.0"/>
<path class="l" d="M326.8,761.9 L324.7,781.8"/>
<path class="l" d="M326.1,771.9 L321.8,787.5"/>
<path class="l" d="M323.6,769.0 L319.3,780.5"/>
<path class="l" d="M308.4,781.8 C308.7,781.3 309.3,779.7 310.0,779.0 C310.7,778.3 311.7,777.8 312.6,777.6 C313.5,777.4 314.6,777.6 315.5,778.0 C316.4,778.4 317.4,779.0 318.3,779.7 C319.2,780.5 320.1,781.4 320.8,782.5 C321.5,783.6 322.3,785.5 322.6,786.1"/>
<path class="l" d="M285.6,760.5 C286.5,760.8 289.2,761.6 291.0,762.0 C292.8,762.4 295.4,762.5 296.3,762.6"/>
<path class="l" d="M305.5,766.9 C305.9,767.6 307.1,769.7 308.0,771.0 C308.9,772.3 310.7,774.1 311.2,774.7"/>
<path class="l" d="M338.9,786.8 C339.0,787.3 339.1,789.0 339.5,790.0 C339.9,791.0 340.3,792.0 341.0,792.5 C341.7,793.0 343.4,793.1 343.9,793.2"/>
<path class="l" d="M347.5,803.5 C347.4,804.2 346.7,806.1 346.8,808.0 C346.9,809.9 347.3,811.8 347.9,814.8 C348.5,817.8 350.1,824.0 350.5,825.8"/>
<path class="l" d="M269.9,819.9 C270.5,817.7 273.1,811.6 273.6,806.9 C274.1,802.2 272.5,795.2 272.8,791.8 C273.1,788.4 274.4,788.2 275.4,786.5 C276.3,784.8 277.2,783.1 278.5,781.8 C279.8,780.5 281.6,779.5 283.0,778.5 C284.4,777.5 285.7,776.6 287.0,776.1 C288.3,775.6 289.6,775.3 291.0,775.2 C292.4,775.1 293.9,775.0 295.6,775.4 C297.3,775.8 299.1,776.8 301.0,777.8 C302.9,778.8 305.1,780.1 306.9,781.1 C308.6,782.1 309.8,783.0 311.5,783.8 C313.2,784.6 314.9,785.4 316.9,786.1 C318.9,786.8 322.2,787.9 323.3,788.2"/>
<path class="l" d="M269.9,819.9 C268.2,821.1 263.7,824.7 260.0,827.0 C256.3,829.3 251.0,830.9 247.7,833.7 C244.4,836.5 242.5,841.0 240.3,843.9 C238.2,846.8 235.7,850.1 234.8,851.3"/>
<path class="l" d="M323.3,788.2 C322.2,789.0 319.0,791.6 316.9,793.2 C314.8,794.8 312.2,795.7 310.5,797.7 C308.8,799.7 307.4,802.5 306.5,805.0 C305.6,807.5 306.3,810.2 304.9,812.5 C303.5,814.8 300.4,816.6 298.0,818.5 C295.6,820.4 294.0,820.6 290.2,823.6 C286.4,826.6 280.1,833.6 275.4,836.5 C270.7,839.4 266.6,839.8 262.0,841.0 C257.4,842.2 253.2,842.2 247.7,843.9 C242.2,845.6 232.3,850.1 229.2,851.3"/>
<path class="l" d="M313.3,798.6 C313.8,799.7 315.7,802.7 316.5,805.0 C317.3,807.3 317.7,810.0 317.9,812.5 C318.1,815.0 317.8,817.5 317.5,820.0 C317.2,822.5 316.7,826.2 316.0,827.2 C315.3,828.2 314.2,826.5 313.5,826.0 C312.8,825.5 312.2,824.3 312.0,824.0"/>
<path class="l" d="M350.0,816.2 C347.7,816.8 340.4,818.5 336.0,820.0 C331.6,821.5 327.4,823.4 323.4,825.4 C319.4,827.4 315.4,829.9 312.0,832.0 C308.6,834.1 306.4,835.8 303.1,838.3 C299.8,840.8 295.7,844.2 292.0,847.0 C288.3,849.8 283.9,852.3 280.9,855.0 C277.9,857.7 276.1,860.5 274.0,863.0 C271.9,865.5 270.0,867.7 268.0,869.7 C266.0,871.7 263.9,873.5 262.0,875.0 C260.1,876.5 257.8,878.3 256.9,879.0"/>
<path class="l" d="M350.0,823.6 C347.3,824.3 339.1,826.2 334.0,828.0 C328.9,829.8 324.4,832.1 319.7,834.6 C315.0,837.1 310.3,840.2 306.0,843.0 C301.7,845.8 297.4,848.9 293.9,851.3 C290.4,853.7 288.1,855.7 285.0,857.5 C281.9,859.3 278.4,860.5 275.4,862.3 C272.4,864.0 269.6,866.3 267.0,868.0 C264.4,869.7 260.9,871.8 259.7,872.5"/>
<path class="l" d="M350.0,819.5 C347.5,820.2 339.8,822.1 335.0,823.8 C330.2,825.5 325.8,827.5 321.5,829.8 C317.2,832.1 312.9,835.0 309.0,837.5 C305.1,840.0 301.3,842.7 298.0,845.0 C294.7,847.3 292.3,849.2 289.0,851.5 C285.7,853.8 279.8,857.3 278.0,858.5"/>
<path class="l" d="M330.0,831.8 C328.0,832.8 322.2,835.6 318.0,838.0 C313.8,840.4 308.7,843.6 305.0,846.0 C301.3,848.4 299.2,850.5 296.0,852.5 C292.8,854.5 289.2,856.2 286.0,858.0 C282.8,859.8 280.0,861.3 277.0,863.5 C274.0,865.7 271.1,868.7 268.0,871.0 C264.9,873.3 260.1,876.4 258.5,877.5"/>
<path class="l" d="M223.7,830.9 C224.8,830.2 227.8,827.7 230.0,826.5 C232.2,825.3 235.5,824.1 236.6,823.6"/>
<path class="l" d="M236.8,823.0 C236.0,823.5 233.4,824.7 232.0,825.8 C230.6,826.9 228.8,828.8 228.2,829.4"/>
<path class="l" d="M247.7,856.8 C249.2,855.6 253.6,851.6 257.0,849.5 C260.4,847.4 266.2,844.8 268.0,843.9"/>
<path class="l" d="M226.6,850.3 C229.2,848.9 236.4,844.4 242.3,842.0 C248.2,839.6 255.7,838.0 262.0,836.0 C268.3,834.0 277.0,831.0 280.0,830.0"/>
<path class="l" d="M247.9,857.7 C249.6,856.8 254.6,853.5 258.0,852.0 C261.4,850.5 264.5,850.0 268.2,848.5 C271.9,847.0 278.0,843.8 280.0,842.9"/>
<path class="l" d="M259.0,868.8 C260.7,867.5 265.5,863.5 269.0,861.0 C272.5,858.5 278.2,855.2 280.0,854.0"/>
<path class="l" d="M323.3,788.2 C324.9,787.7 329.5,786.3 333.0,785.3 C336.5,784.3 340.7,783.2 344.5,782.4 C348.3,781.6 352.3,781.4 355.6,780.7 C358.9,780.0 361.3,778.1 364.1,778.1 C366.9,778.1 370.0,780.2 372.6,780.7 C375.2,781.2 377.4,781.2 380.0,781.3 C382.6,781.4 386.7,781.5 388.0,781.5"/>
<path class="l" d="M344.5,782.4 L346.2,774.7 L370.1,773.0 L374.3,779.8"/>
<path class="l" d="M346.2,774.7 L351.3,781.5"/>
<path class="l" d="M372.6,775.6 L382.8,772.2 L387.1,775.6 L388.0,781.5"/>
<path class="l" d="M373.6,776.6 L383.0,774.0 L385.5,776.8"/>
<path class="l" d="M388.0,781.5 C388.7,783.4 391.1,789.3 392.2,792.6 C393.3,795.9 394.4,799.0 394.8,801.1 C395.2,803.2 394.5,804.7 394.4,805.4"/>
<path class="l" d="M384.5,783.2 C385.2,784.9 387.7,790.5 388.8,793.5 C389.9,796.5 390.8,799.0 391.2,801.0 C391.6,803.0 391.0,805.0 391.0,805.8"/>
<path class="l" d="M364.1,778.1 C365.1,780.0 368.5,785.4 370.1,789.2 C371.7,793.0 372.7,797.6 373.5,801.1 C374.3,804.6 374.7,807.1 375.0,810.0 C375.3,812.9 375.2,816.8 375.2,818.2"/>
<path class="l" d="M394.4,805.4 L388.8,806.2 L375.2,818.2 L348.7,825.8 L330.0,831.8"/>
<path class="l" d="M389.7,799.4 C387.1,800.8 380.6,805.4 374.3,808.0 C368.1,810.6 359.6,812.5 352.2,814.8 C344.8,817.1 333.7,820.5 330.0,821.6"/>
<path class="l" d="M388.8,803.7 C386.7,805.0 382.1,808.9 376.0,811.4 C369.9,813.9 359.9,816.7 352.2,819.0 C344.5,821.3 333.7,824.0 330.0,825.0"/>
<circle class="l" cx="381.2" cy="789.2" r="1"/><circle class="l" cx="385.2" cy="788.2" r="1"/>
<path class="l" d="M388.8,781.5 C390.9,781.1 396.6,780.8 401.6,779.0 C406.6,777.2 412.9,773.6 418.6,770.5 C424.3,767.4 431.1,763.2 435.7,760.2 C440.3,757.2 443.1,754.9 446.0,752.5 C448.9,750.1 451.0,747.8 453.2,746.0 C455.4,744.2 456.2,744.2 459.2,741.8 C462.2,739.4 469.1,733.2 471.1,731.5"/>
<path class="l" d="M395.6,804.5 C398.3,803.6 406.2,801.7 411.8,799.4 C417.4,797.1 424.2,793.1 428.9,790.9 C433.6,788.7 435.8,787.9 440.0,786.0 C444.2,784.1 449.2,782.8 454.1,779.3 C459.0,775.8 465.7,768.2 469.4,764.8 C473.1,761.4 472.9,761.9 476.2,758.8 C479.5,755.7 486.9,748.1 489.0,746.0"/>
<path class="l" d="M471.1,731.5 C471.8,731.1 474.0,729.4 475.4,729.3 C476.8,729.2 478.2,730.2 479.5,731.0 C480.8,731.8 481.9,732.9 483.1,734.1 C484.4,735.3 485.9,736.6 487.0,738.0 C488.1,739.4 489.6,741.3 489.9,742.6 C490.2,743.9 489.1,745.4 489.0,746.0"/>
<path class="l" d="M473.7,730.7 C474.4,731.1 476.6,732.0 478.0,733.0 C479.4,734.0 480.7,735.2 482.0,736.5 C483.3,737.8 484.9,739.5 486.0,741.0 C487.1,742.5 487.9,744.8 488.3,745.5"/>
<path class="l" d="M475.5,731.8 C476.4,732.4 479.2,733.9 481.0,735.5 C482.8,737.1 485.4,740.0 486.5,741.5 C487.6,743.0 487.2,744.2 487.3,744.8"/>
<path class="l" d="M455.8,743.5 C456.2,744.5 457.4,747.7 458.5,749.5 C459.6,751.3 461.0,753.1 462.6,754.5 C464.2,755.9 466.0,757.1 468.0,758.0 C470.0,758.9 473.4,759.4 474.5,759.7"/>
<path class="l" d="M453.2,746.9 C453.7,747.9 454.9,751.1 456.0,753.0 C457.1,754.9 458.6,756.5 460.1,758.0 C461.6,759.5 463.3,760.9 465.0,762.0 C466.7,763.1 469.4,764.0 470.3,764.4"/>
<!-- ===== O2 SENSOR ===== -->
<g transform="translate(368.6,744.7) rotate(-45.5)">
<path class="w" d="M1.5,-3 L13,-3 L13,3 L1.5,3 C-0.6,2.4 -0.6,-2.4 1.5,-3 Z"/>
<ellipse class="l" cx="1.6" cy="0" rx="1.3" ry="3"/>
<path class="w" d="M11,-4.2 L14,-5 L20,-5 L22,-3.8 L22,3.8 L20,5 L14,5 L11,4.2 Z"/>
<path class="l" d="M12.8,-4.7 C11.8,-2 11.8,2 12.8,4.7 M15.5,-5 C14.5,-2 14.5,2 15.5,5 M18.5,-5 C17.5,-2 17.5,2 18.5,5 M20.5,-4.8 C19.6,-2 19.6,2 20.5,4.8"/>
<path class="w" d="M22,-3.6 L38,-3.6 L40,-3 L44,-3 L45.5,-1.3 L45.5,1.3 L44,3 L40,3 L38,3.6 L22,3.6 Z"/>
<path class="l" d="M38,-3.6 C37.2,-2 37.2,2 38,3.6 M40,-3 C39.3,-1.5 39.3,1.5 40,3"/>
<path class="l" d="M45.5,-1.5 L67,-1.5 M45.5,1.5 L67,1.5"/>
<path class="l" d="M70,0 L80,0 M83,0 L85,0 M88,0 L92,0"/>
<path class="l" d="M92,-1.5 L119,-1.5 M92,1.5 L119,1.5"/>
<path class="w" d="M119,-3.2 L121,-4.8 L130,-4.8 L131.5,-3 L131.5,3 L130,4.8 L121,4.8 L119,3.2 Z"/>
<path class="l" d="M121,-4.8 L121,4.8 M121,-1.6 L131.5,-1.6 M121,1.8 L131.5,1.8 M124,-4.8 L124,4.8"/>
</g>
<path class="l" d="M396.7,725.2 L420.2,737.7"/>
<path class="c" style="stroke-dasharray:13.5 1.8 1.6 1.8 200;stroke-dashoffset:0" d="M365.5,748 L339.6,776.8 L329.7,772.6"/>
<!-- ===== BOLT 3 upper ===== -->
<g transform="translate(257,666) rotate(23)">
<path class="w" d="M-3.4,-4.6 L1.2,-5.2 L3.6,-2.6 L3.6,2.6 L1.2,5.2 L-3.4,4.6 L-5,0 Z"/>
<path class="l" d="M-1.6,-3.2 L0.8,-3.6 L2.4,-1.6 L2.4,1.6 L0.8,3.6 L-1.6,3.2 L-2.8,0 Z"/>
<path class="w" d="M3.6,-2.5 L12,-2.5 C13.4,-1.8 13.4,1.8 12,2.5 L3.6,2.5 Z"/>
<path class="l" d="M5.5,-2.5 L4.8,2.5 M7.3,-2.5 L6.6,2.5 M9.1,-2.5 L8.4,2.5 M10.9,-2.5 L10.2,2.5"/>
</g>
<path class="l" d="M272.3,633.0 L261.3,661.5"/>
<path class="c" style="stroke-dasharray:24 1.8 2 1.8 200;stroke-dashoffset:0" d="M270.5,673.2 L281.8,679.5 L281.8,728.6 L288.5,734"/>
<path class="l" style="stroke-dasharray:5 2.2" d="M288.5,734.5 L311.1,748 L329,756.5"/>
<!-- ===== BOLT 3 lower ===== -->
<g transform="translate(476.2,841.5) rotate(213)">
<path class="w" d="M-3.2,-4.8 L1.8,-5 L4.2,-2.5 L4.2,2.5 L1.8,5 L-3.2,4.8 C-5.6,2.5 -5.6,-2.5 -3.2,-4.8 Z"/>
<ellipse class="l" cx="-2.2" cy="0" rx="3.4" ry="4.9"/>
<path class="w" d="M4.2,-2.5 L12.5,-2.5 C13.9,-1.8 13.9,1.8 12.5,2.5 L4.2,2.5 Z"/>
<path class="l" d="M6,-2.5 L5.3,2.5 M7.8,-2.5 L7.1,2.5 M9.6,-2.5 L8.9,2.5 M11.4,-2.5 L10.7,2.5"/>
</g>
<path class="l" d="M481.7,840.6 L509.5,836.4"/>
<path class="c" style="stroke-dasharray:4 2 4 2 4 2 40 2.2 2 2.2 100;stroke-dashoffset:0" d="M381,787.8 L463.5,834.7"/>
<!-- ===== NUT 5 ===== -->
<g transform="translate(74.8,661.8)">
<path class="w" d="M-2.5,-6.6 L2.5,-6.4 L6.3,-2.8 L5.2,1.2 L1.5,5.8 L-2.2,6.6 L-6,3.2 L-5.4,-1.2 Z"/>
<path class="l" d="M-1.8,-5 L1.8,-4.8 L4.4,-2.2 L3.6,0.6 L0.8,3.8 L-2,4.4 L-4.2,2 L-3.6,-1.4 Z"/>
<path class="l" d="M-1.6,-3.2 L1.2,-3 L2.4,-1 L0.2,2.2 L-2,2.4 L-2.6,0 Z"/>
<path class="l" d="M-5.4,-1.2 L-3.6,-1.4 M-6,3.2 L-4.2,2 M1.5,5.8 L0.8,3.8 M5.2,1.2 L3.6,0.6"/>
</g>
<path class="l" d="M66.7,627.7 L73.8,654.7"/>
<path class="l" d="M80.9,654.3 L105.3,624.4 L105.3,652.5"/>
<path class="l" d="M105.3,655.8 L105.3,657.6"/>
<path class="l" d="M105.3,660.8 L105.3,691.6 L120.8,674.8"/>
<!-- ===== LEADERS 4 / 1 ===== -->
<path class="l" d="M207.5,616.0 L160.0,642.5"/>
<path class="l" d="M207.5,616.0 L191.0,660.0"/>
<path class="l" d="M207.5,616.0 L217.5,677.5"/>
<path class="l" d="M207.5,616.0 L247.5,695.0"/>
<path class="l" d="M93.0,777.5 L124.3,770.2"/>
<!-- ===== FWD ARROW ===== -->
<g class="g">
<path d="M14.4,930.3 L27.4,906.9 L31.1,909.4 L55.2,896 L59.5,897.5 L59.7,916.3 L31.8,931.8 L31.4,938.7 Z" fill="#fff" stroke="#0c0c0c" stroke-width="1.8" stroke-linejoin="miter"/>
<path d="M31.3,912.5 L57,899.7 L57.6,907" fill="none" stroke="#0c0c0c" stroke-width="1.3"/>
<path d="M18.2,930 L28.9,909.6 M55.2,896 L57,898.9" fill="none" stroke="#0c0c0c" stroke-width="1.2"/>
<text transform="matrix(1.12,-0.571,-0.36,1.8,30.3,930.5)" style='font-family:"Liberation Sans",sans-serif;font-weight:bold;font-size:11px;fill:#0a0a0a;stroke:#0a0a0a;stroke-width:0.55;letter-spacing:-0.1px'>FWD</text>
</g>
</svg>
</body>
</html>
